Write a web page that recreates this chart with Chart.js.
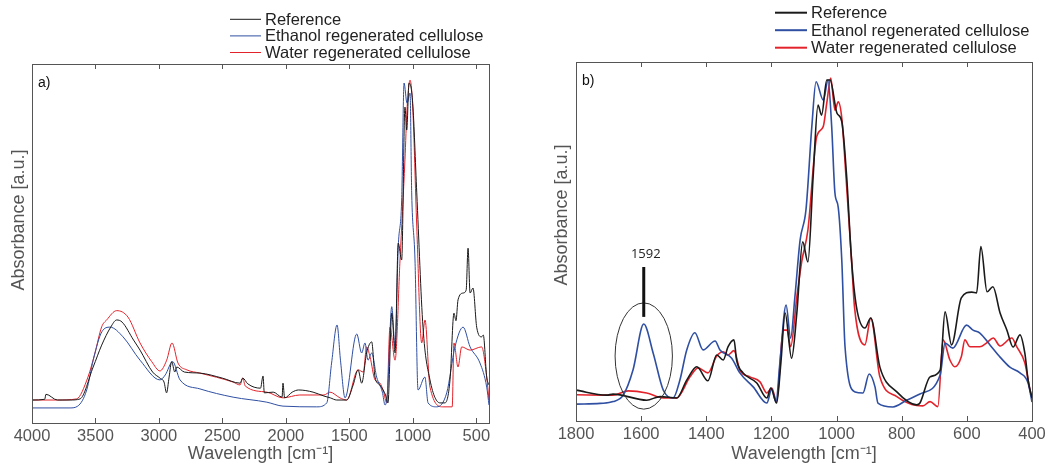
<!DOCTYPE html>
<html>
<head>
<meta charset="utf-8">
<script src="https://cdn.jsdelivr.net/npm/chart.js@4.4.1/dist/chart.umd.min.js"></script>
<style>
    html, body { margin: 0; padding: 0; background: #fff; }
    #wrap { position: relative; width: 1055px; height: 465px; overflow: hidden; }
    canvas { position: absolute; top: 0; }
    #chartA { left: 0; }
    #chartB { left: 540px; }
</style>
</head>
<body>
<div id="wrap">
    <canvas id="chartA" width="527" height="465"></canvas>
    <canvas id="chartB" width="515" height="465"></canvas>
</div>
<script>
// series names and colours
const seriesLabels = ["Reference", "Ethanol regenerated cellulose", "Water regenerated cellulose"];
const seriesColors = ["#1a1a1a", "#2f4fa2", "#e3232b"];

// panel a) full range, wavenumber [cm-1] / absorbance [a.u.]
const ticksA = [4000, 3500, 3000, 2500, 2000, 1500, 1000, 500];

const waveRefA = [4000, 3900, 3890, 3800, 3700, 3622, 3518, 3451, 3380, 3333, 3290, 3200, 3149, 3050, 2992, 2960, 2940, 2920, 2900, 2875, 2860, 2800, 2677, 2500, 2361, 2340, 2300, 2200, 2180, 2170, 2100, 2030, 2023, 2010, 1950, 1900, 1786, 1700, 1650, 1600, 1521, 1470, 1431, 1403, 1364, 1324, 1298, 1260, 1234, 1215, 1196, 1166, 1140, 1115, 1088, 1062, 1048, 1030, 1001, 969, 920, 865, 786, 747, 707, 676, 660, 644, 604, 580, 565, 549, 526, 497, 458, 445, 418, 400];
const absRefA = [6.4, 6.6, 8.0, 6.4, 6.4, 6.7, 15.6, 21.7, 26.7, 28.7, 28.1, 23.1, 20.3, 14.2, 12.5, 11.4, 8.4, 12.8, 17.1, 14.2, 15.6, 14.2, 13.9, 12.5, 11.1, 12.5, 10.9, 9.7, 13.1, 8.4, 8.6, 7.2, 11.1, 7.0, 8.6, 9.2, 8.6, 7.5, 7.0, 6.4, 6.4, 10.6, 14.8, 11.1, 19.5, 22.6, 12.8, 10.6, 9.2, 7.8, 5.6, 30.6, 19.5, 50.1, 45.4, 88.0, 81.6, 94.7, 89.1, 64.1, 26.7, 12.0, 5.6, 5.6, 12.0, 30.6, 28.5, 34.3, 36.2, 37.0, 48.7, 36.2, 37.6, 26.7, 24.0, 24.5, 12.8, 10.6];

const waveEthA = [4000, 3700, 3640, 3569, 3518, 3450, 3385, 3283, 3149, 2992, 2950, 2892, 2834, 2677, 2416, 2150, 2023, 1757, 1678, 1640, 1597, 1570, 1534, 1442, 1403, 1377, 1353, 1324, 1285, 1240, 1219, 1200, 1166, 1140, 1115, 1088, 1069, 1046, 1022, 1009, 983, 959, 905, 880, 812, 733, 668, 604, 549, 471, 418, 400];
const absEthA = [4.2, 4.2, 4.7, 9.2, 17.5, 25.4, 26.7, 24.0, 17.5, 12.0, 13.4, 17.1, 12.0, 9.5, 7.2, 5.8, 4.7, 4.5, 5.6, 16.7, 27.3, 17.5, 7.0, 24.8, 19.5, 22.3, 17.5, 19.5, 12.8, 8.6, 5.0, 8.4, 32.4, 21.2, 49.0, 62.1, 94.7, 89.1, 91.9, 64.1, 45.4, 9.2, 12.8, 5.6, 4.5, 8.4, 21.2, 26.7, 21.2, 16.7, 10.0, 5.0];

const waveWatA = [4000, 3800, 3650, 3559, 3504, 3451, 3412, 3333, 3244, 3149, 3057, 2992, 2939, 2897, 2850, 2780, 2677, 2416, 2361, 2340, 2320, 2150, 2023, 1890, 1700, 1653, 1574, 1521, 1431, 1390, 1364, 1337, 1298, 1259, 1230, 1206, 1180, 1140, 1101, 1062, 1046, 1022, 1001, 969, 930, 904, 865, 762, 690, 676, 644, 615, 549, 458, 418, 400];
const absWatA = [6.4, 6.4, 6.7, 12.8, 19.5, 26.8, 28.7, 31.3, 29.5, 22.3, 17.1, 14.5, 17.5, 22.3, 16.7, 14.8, 13.9, 11.4, 10.6, 12.5, 10.3, 8.6, 7.0, 7.8, 7.8, 8.6, 7.0, 6.4, 14.8, 14.2, 21.2, 18.4, 12.0, 11.1, 8.6, 5.6, 26.7, 17.5, 45.4, 73.3, 87.2, 95.5, 88.0, 54.6, 22.3, 28.7, 10.0, 4.5, 4.5, 22.3, 15.6, 21.2, 20.3, 21.2, 12.8, 6.4];

// panel b) fingerprint region
const ticksB = [1800, 1600, 1400, 1200, 1000, 800, 600, 400];

const waveRefB = [1800, 1706, 1686, 1583, 1542, 1491, 1460, 1429, 1395, 1368, 1348, 1333, 1315, 1307, 1287, 1245, 1214, 1202, 1184, 1171, 1158, 1138, 1122, 1104, 1088, 1072, 1057, 1046, 1030, 1020, 999, 984, 969, 954, 939, 913, 895, 867, 815, 754, 744, 713, 682, 667, 647, 617, 585, 570, 557, 538, 520, 498, 477, 458, 437, 422, 412, 400];
const absRefB = [8.6, 7.2, 7.5, 5.8, 6.8, 6.4, 11.4, 15.1, 11.2, 18.4, 17.0, 20.7, 22.6, 17.0, 13.4, 10.6, 6.4, 9.2, 5.0, 16.2, 30.1, 17.5, 30.1, 49.9, 44.3, 68.0, 88.0, 85.2, 95.0, 95.0, 85.8, 83.4, 68.0, 44.8, 31.8, 25.9, 28.7, 15.0, 8.1, 4.5, 5.0, 12.3, 14.2, 30.4, 21.2, 34.3, 35.9, 35.7, 48.6, 36.0, 37.4, 30.1, 25.3, 20.6, 24.0, 18.9, 11.4, 6.4];

const waveEthB = [1800, 1726, 1686, 1655, 1625, 1592, 1563, 1532, 1502, 1481, 1460, 1435, 1410, 1373, 1358, 1322, 1297, 1256, 1214, 1199, 1186, 1174, 1155, 1141, 1128, 1112, 1094, 1076, 1063, 1041, 1026, 1015, 1005, 995, 984, 974, 943, 919, 900, 882, 873, 827, 785, 744, 682, 667, 643, 601, 581, 560, 529, 498, 468, 437, 412, 400];
const absEthB = [4.7, 4.9, 5.4, 7.2, 14.2, 27.0, 18.9, 8.6, 6.4, 11.4, 19.8, 24.6, 19.8, 22.3, 19.8, 17.5, 13.4, 9.5, 5.0, 8.9, 5.3, 16.2, 32.3, 23.1, 34.5, 50.4, 58.8, 82.0, 94.5, 89.4, 95.0, 82.0, 63.5, 59.6, 44.8, 20.6, 8.1, 7.8, 13.1, 9.5, 5.0, 3.9, 5.8, 7.5, 12.8, 21.7, 20.3, 26.7, 25.3, 24.5, 21.2, 17.8, 15.0, 13.4, 10.6, 5.3];

const waveWatB = [1800, 1686, 1640, 1583, 1532, 1491, 1450, 1425, 1395, 1368, 1348, 1333, 1315, 1297, 1266, 1235, 1214, 1199, 1184, 1164, 1152, 1141, 1122, 1107, 1088, 1061, 1041, 1030, 1018, 1005, 995, 984, 971, 954, 945, 913, 895, 867, 815, 754, 735, 713, 689, 673, 652, 637, 617, 606, 591, 560, 540, 519, 498, 462, 447, 422, 406, 400];
const absWatB = [7.3, 7.2, 8.4, 7.8, 6.4, 6.4, 12.3, 14.8, 13.4, 18.1, 19.3, 18.4, 19.6, 14.2, 12.3, 10.9, 7.8, 9.2, 5.4, 25.3, 25.3, 20.7, 34.6, 44.4, 53.2, 79.2, 82.0, 88.6, 95.5, 86.6, 88.9, 84.4, 68.0, 44.8, 31.8, 21.2, 28.7, 12.3, 6.8, 4.3, 4.2, 5.4, 4.0, 22.6, 17.0, 15.1, 17.9, 22.6, 20.7, 20.7, 21.7, 23.1, 20.9, 23.1, 20.7, 16.2, 8.6, 6.7];

// the 1592 cm-1 band marked in panel b)
const peakNote = {
    wave: 1592,
    text: "1592",
    textAbs: 46.4,
    barTop: 42.9,
    barBottom: 29.0,
    ringHalfWidth: 88,
    ringTop: 32.9,
    ringBottom: 3.3
};

const fontFamily = "'Liberation Sans', Arial, Helvetica, sans-serif";
const axisGray = "#555555";

function toPoints(waves, values) {
    return waves.map((w, i) => ({ x: w, y: values[i] }));
}

// box round the plot with inward tick marks on top and bottom
const framePlugin = {
    id: "frame",
    afterDraw(chart) {
        const { ctx, chartArea: a, scales } = chart;
        ctx.save();
        ctx.strokeStyle = axisGray;
        ctx.lineWidth = 1;
        ctx.strokeRect(
            Math.round(a.left) + 0.5,
            Math.round(a.top) + 0.5,
            Math.round(a.right - a.left),
            Math.round(a.bottom - a.top)
        );
        ctx.beginPath();
        scales.x.ticks.forEach(t => {
            const px = Math.round(scales.x.getPixelForValue(t.value)) + 0.5;
            ctx.moveTo(px, a.top);
            ctx.lineTo(px, a.top + 5);
            ctx.moveTo(px, a.bottom);
            ctx.lineTo(px, a.bottom - 5);
        });
        ctx.stroke();
        ctx.restore();
    }
};

// stacked legend above the plot, plus panel letter and y title
const extrasPlugin = {
    id: "extras",
    afterDraw(chart, args, opts) {
        const ctx = chart.ctx;
        ctx.save();

        ctx.font = "16.5px " + fontFamily;
        ctx.textBaseline = "middle";
        ctx.textAlign = "left";
        chart.data.datasets.forEach((ds, i) => {
            const y = opts.legendTop + i * opts.legendGap;
            ctx.strokeStyle = ds.borderColor;
            ctx.lineWidth = opts.legendLine;
            ctx.beginPath();
            ctx.moveTo(opts.legendLeft, y);
            ctx.lineTo(opts.legendLeft + opts.legendLen, y);
            ctx.stroke();
            ctx.fillStyle = "#222";
            ctx.fillText(ds.label, opts.legendLeft + opts.legendLen + 4, y + 1);
        });

        ctx.font = "14px " + fontFamily;
        ctx.fillStyle = "#111";
        ctx.fillText(opts.panel, chart.chartArea.left + 6, chart.chartArea.top + 19);

        ctx.translate(opts.yTitleX, opts.yTitleY);
        ctx.rotate(-Math.PI / 2);
        ctx.textAlign = "center";
        ctx.font = "18px " + fontFamily;
        ctx.fillStyle = axisGray;
        ctx.fillText("Absorbance [a.u.]", 0, 0);

        ctx.restore();
    }
};

// ellipse, bar and label for the marked band
const peakPlugin = {
    id: "peakNote",
    afterDatasetsDraw(chart, args, opts) {
        if (!opts.note) {
            return;
        }
        const n = opts.note;
        const { ctx, scales } = chart;
        const cx = scales.x.getPixelForValue(n.wave);
        const rx = Math.abs(scales.x.getPixelForValue(n.wave - n.ringHalfWidth) - cx);
        const yTop = scales.y.getPixelForValue(n.ringTop);
        const yBot = scales.y.getPixelForValue(n.ringBottom);

        ctx.save();
        ctx.strokeStyle = "#333";
        ctx.lineWidth = 1;
        ctx.beginPath();
        ctx.ellipse(cx, (yTop + yBot) / 2, rx, (yBot - yTop) / 2, 0, 0, Math.PI * 2);
        ctx.stroke();

        ctx.strokeStyle = "#111";
        ctx.lineWidth = 3;
        ctx.beginPath();
        ctx.moveTo(cx, scales.y.getPixelForValue(n.barTop));
        ctx.lineTo(cx, scales.y.getPixelForValue(n.barBottom));
        ctx.stroke();

        ctx.fillStyle = "#222";
        ctx.font = "13px 'Open Sans', " + fontFamily;
        ctx.textAlign = "center";
        ctx.textBaseline = "middle";
        ctx.fillText(n.text, cx + 2, scales.y.getPixelForValue(n.textAbs));
        ctx.restore();
    }
};

function makeSpectrum(canvasId, setup) {

    const datasets = setup.series.map((s, i) => ({
        label: seriesLabels[i],
        data: toPoints(s[0], s[1]),
        borderColor: seriesColors[i],
        borderWidth: setup.lineWidth,
        pointRadius: 0,
        cubicInterpolationMode: "monotone",
        fill: false
    }));

    return new Chart(document.getElementById(canvasId), {
        type: "line",
        data: { datasets: datasets },
        options: {
            responsive: false,
            animation: false,
            devicePixelRatio: 1,
            layout: {
                padding: { left: 0, right: setup.padRight, top: setup.padTop, bottom: 0 }
            },
            scales: {
                x: {
                    type: "linear",
                    reverse: true,
                    min: setup.xMin,
                    max: setup.xMax,
                    afterBuildTicks: scale => {
                        scale.ticks = setup.ticks.map(v => ({ value: v }));
                    },
                    afterFit: scale => {
                        scale.height = setup.xHeight;
                    },
                    grid: { display: false, drawTicks: false },
                    border: { display: false },
                    ticks: {
                        color: axisGray,
                        autoSkip: false,
                        maxRotation: 0,
                        padding: 4,
                        font: { size: 16.5, family: fontFamily },
                        callback: value => String(value)
                    },
                    title: {
                        display: true,
                        text: "Wavelength [cm\u207B\u00B9]",
                        color: axisGray,
                        padding: { top: 0, bottom: 0 },
                        font: { size: 18, family: fontFamily }
                    }
                },
                y: {
                    min: 0,
                    max: 100,
                    afterFit: scale => {
                        scale.width = setup.yWidth;
                    },
                    grid: { display: false, drawTicks: false },
                    border: { display: false },
                    ticks: { display: false }
                }
            },
            plugins: {
                legend: { display: false },
                tooltip: { enabled: false },
                extras: setup.extras,
                peakNote: { note: setup.note }
            }
        },
        plugins: [framePlugin, extrasPlugin, peakPlugin]
    });

}

makeSpectrum("chartA", {
    series: [[waveRefA, absRefA], [waveEthA, absEthA], [waveWatA, absWatA]],
    ticks: ticksA,
    xMin: 400,
    xMax: 4000,
    lineWidth: 1,
    padRight: 38,
    padTop: 64,
    xHeight: 42,
    yWidth: 32,
    note: null,
    extras: {
        panel: "a)",
        legendLeft: 230,
        legendLen: 31,
        legendTop: 19.3,
        legendGap: 16.6,
        legendLine: 1,
        yTitleX: 19,
        yTitleY: 220
    }
});

makeSpectrum("chartB", {
    series: [[waveRefB, absRefB], [waveEthB, absEthB], [waveWatB, absWatB]],
    ticks: ticksB,
    xMin: 400,
    xMax: 1800,
    lineWidth: 1.6,
    padRight: 23,
    padTop: 62,
    xHeight: 44,
    yWidth: 36,
    note: peakNote,
    extras: {
        panel: "b)",
        legendLeft: 235,
        legendLen: 32,
        legendTop: 12.7,
        legendGap: 17.5,
        legendLine: 2,
        yTitleX: 22,
        yTitleY: 215
    }
});
</script>
</body>
</html>
